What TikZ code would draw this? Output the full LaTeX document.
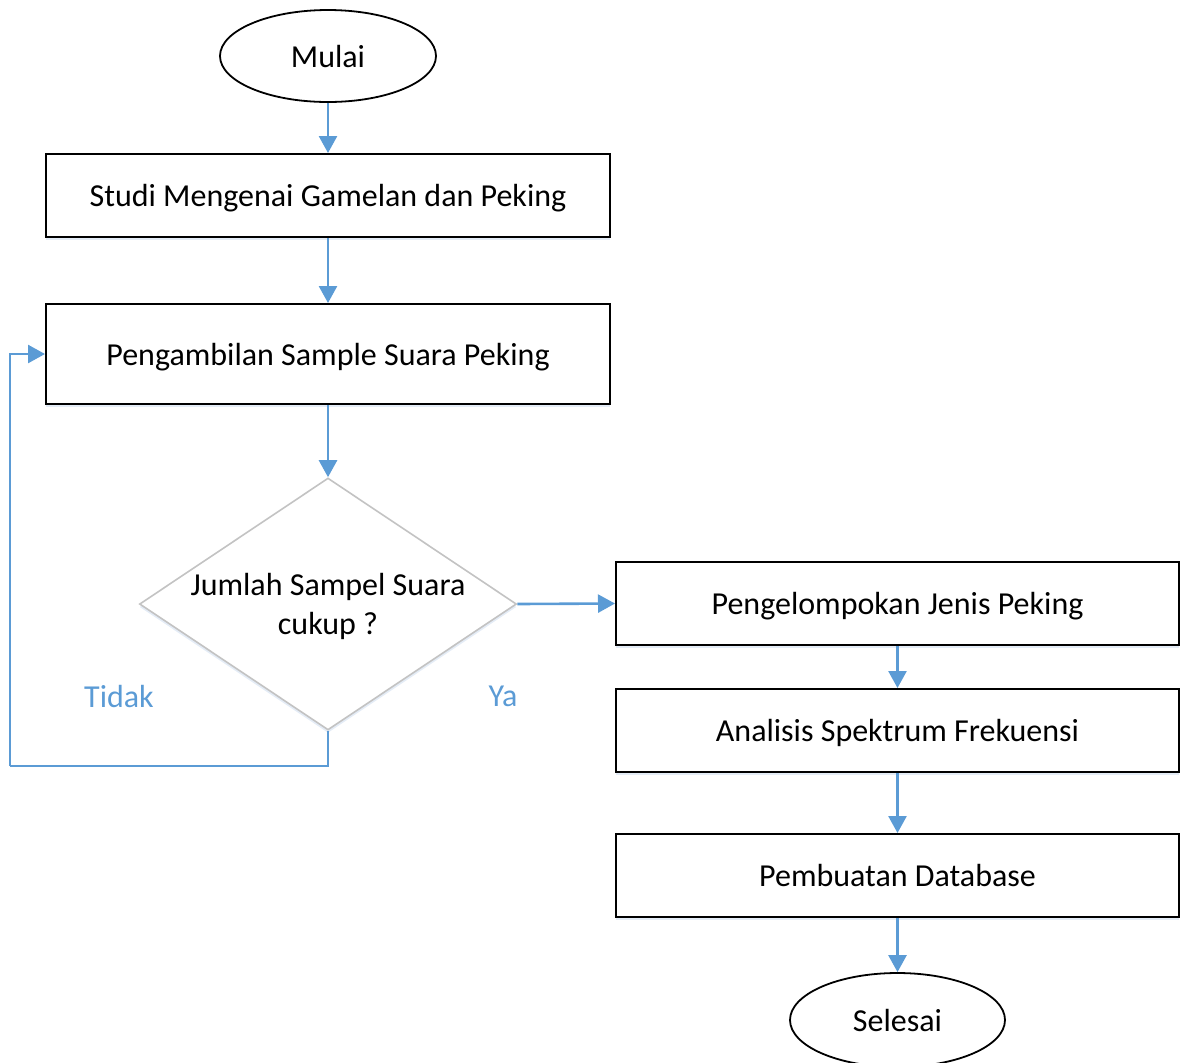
\documentclass[tikz,border=0pt]{standalone}
\usepackage{fontspec}
\setmainfont{Carlito}
\usetikzlibrary{shapes.geometric,arrows.meta,shadows}
\definecolor{lineblue}{RGB}{91,155,213}
\definecolor{diagray}{RGB}{195,195,195}
\definecolor{shadowblue}{RGB}{228,236,246}
\tikzset{
  px/.style={x=0.5pt,y=-0.5pt},
  boxshadow/.style={drop shadow={shadow xshift=0pt,shadow yshift=-1.5pt,fill=shadowblue,opacity=1}},
  procbox/.style={draw=black,line width=1pt,fill=white,minimum width=282pt,minimum height=41.5pt,inner sep=0pt,text height=13.5pt,text depth=2.5pt,font=\fontsize{16}{18}\selectfont,boxshadow},
  termnode/.style={ellipse,draw=black,line width=0.9pt,fill=white,minimum width=108pt,minimum height=46pt,inner sep=0pt,font=\fontsize{16}{18}\selectfont},
  decnode/.style={diamond,draw=diagray,line width=0.8pt,fill=white,minimum width=188.5pt,minimum height=126pt,inner sep=0pt,boxshadow},
  txt/.style={font=\fontsize{16}{19.5}\selectfont,align=center,inner sep=0pt},
  lbl/.style={font=\fontsize{16}{18}\selectfont,text=lineblue,inner sep=0pt},
  flow/.style={draw=lineblue,line width=1.3pt,-{Triangle[length=8.5pt,width=9pt]}},
  flowline/.style={draw=lineblue,line width=1.3pt}
}
\begin{document}
\begin{tikzpicture}[px]
\useasboundingbox (0,0) rectangle (1183,1062);
\node[termnode] (mulai) at (328,56) {Mulai};
\node[procbox] (studi) at (328,195.5) {Studi Mengenai Gamelan dan Peking};
\node[procbox,minimum height=50pt] (ambil) at (328,354) {Pengambilan Sample Suara Peking};
\node[decnode] (dec) at (328,604) {};
\node[txt] (dectext) at (328,606) {Jumlah Sampel Suara\\cukup ?};
\node[procbox,minimum width=281.5pt] (kelompok) at (897.5,603.5) {Pengelompokan Jenis Peking};
\node[procbox,minimum width=281.5pt] (analisis) at (897.5,730.5) {Analisis Spektrum Frekuensi};
\node[procbox,minimum width=281.5pt] (database) at (897.5,875.5) {Pembuatan Database};
\node[termnode,minimum width=107.5pt,minimum height=47pt] (selesai) at (897.5,1020) {Selesai};
\node[lbl] (tidak) at (119,696) {Tidak};
\node[lbl] (ya) at (503,696) {Ya};
\coordinate (loopc) at (10,766);
\draw[flow] (mulai) -- (studi);
\draw[flow] (studi) -- (ambil);
\draw[flow] (ambil) -- (dec);
\draw[flow] (dec.east) -- (kelompok.west);
\draw[flow] (kelompok) -- (analisis);
\draw[flow] (analisis) -- (database);
\draw[flow] (database) -- (selesai);
\draw[flowline] (dec.south) |- (loopc);
\draw[flow] (loopc) |- (ambil.west);
\end{tikzpicture}
\end{document}
